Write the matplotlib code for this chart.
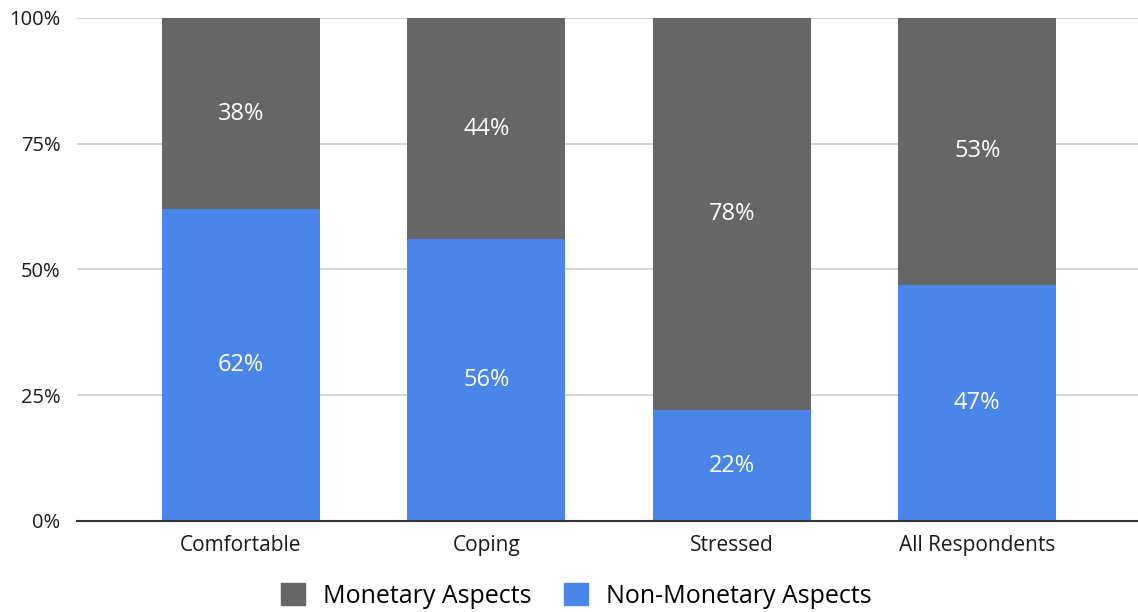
import matplotlib.pyplot as plt
from matplotlib.patches import Patch
from matplotlib.ticker import FuncFormatter

plt.rcParams["font.family"] = ["Open Sans", "DejaVu Sans"]

categories = ["Comfortable", "Coping", "Stressed", "All Respondents"]
non_monetary = [62, 56, 22, 47]
monetary = [38, 44, 78, 53]
y_ticks = [0, 25, 50, 75, 100]

BLUE = "#4a86e8"
GRAY = "#666666"

fig = plt.figure(figsize=(11.38, 6.12), dpi=100)
ax = fig.add_axes([0.0677, 0.1487, 0.9323, 0.8219])

x = list(range(len(categories)))
width = 0.642
ax.bar(x, non_monetary, width=width, color=BLUE, zorder=2)
ax.bar(x, monetary, width=width, bottom=non_monetary, color=GRAY, zorder=2)

for i in x:
    lo, hi = non_monetary[i], monetary[i]
    ax.text(i, lo / 2, f"{lo}%", ha="center", va="center", color="white", fontsize=17, zorder=3)
    ax.text(i, lo + hi / 2, f"{hi}%", ha="center", va="center", color="white", fontsize=17, zorder=3)

ax.set_xlim(-0.667, 3.655)
ax.set_ylim(0, 100)
ax.set_yticks(y_ticks)
ax.yaxis.set_major_formatter(FuncFormatter(lambda v, _: f"{int(v)}%"))
ax.set_xticks(x)
ax.set_xticklabels(categories)
ax.tick_params(axis="both", length=0, colors="#1a1a1a")
ax.tick_params(axis="x", labelsize=15, pad=10)
ax.tick_params(axis="y", labelsize=14.5, pad=12)

ax.grid(axis="y", color="#cccccc", linewidth=1.2, zorder=0)
for side in ["top", "right", "left"]:
    ax.spines[side].set_visible(False)
ax.spines["bottom"].set_color("#333333")
ax.spines["bottom"].set_linewidth(1.5)
ax.spines["bottom"].set_zorder(4)

handles = [Patch(color=GRAY, label="Monetary Aspects"), Patch(color=BLUE, label="Non-Monetary Aspects")]
fig.legend(handles=handles, loc="center", bbox_to_anchor=(0.5066, 0.026), ncol=2, frameon=False,
           fontsize=18, handlelength=0.95, handleheight=0.95, handletextpad=0.72, columnspacing=1.3)

fig.savefig("out.png", dpi=100)
